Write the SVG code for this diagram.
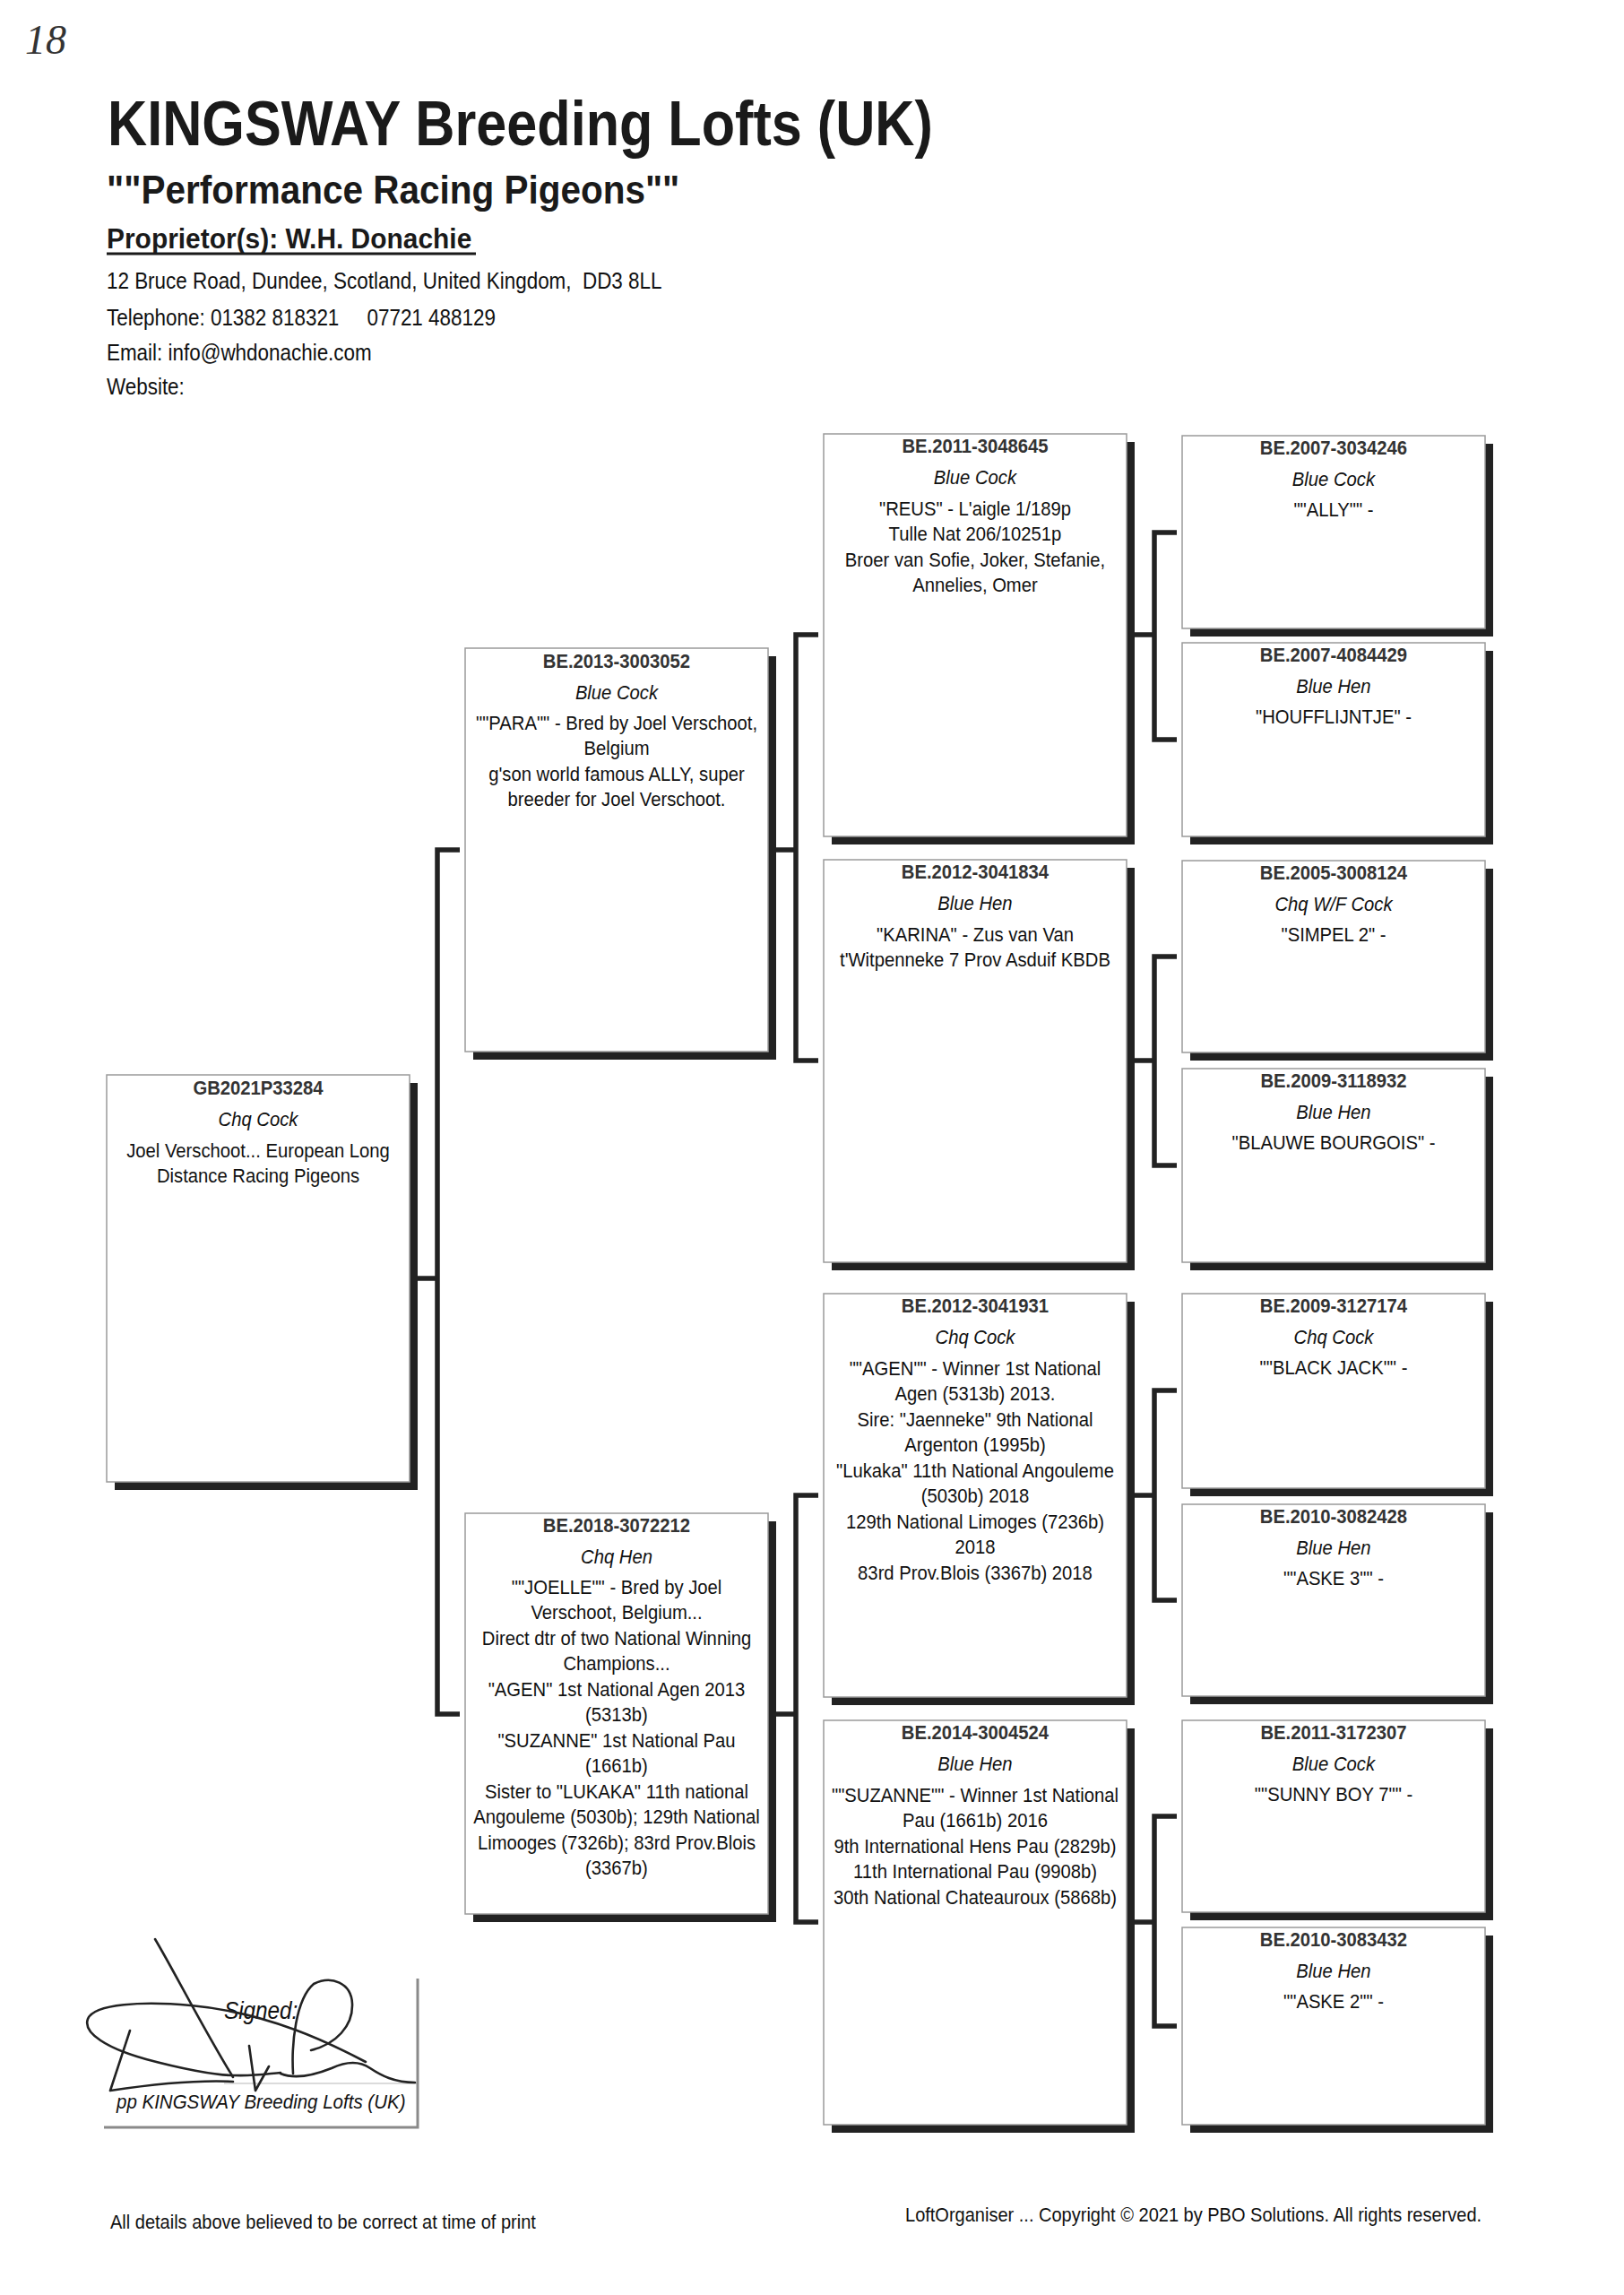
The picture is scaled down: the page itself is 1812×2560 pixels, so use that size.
<svg xmlns="http://www.w3.org/2000/svg" width="1812" height="2560" viewBox="0 0 1812 2560">
<style>
text{font-family:"Liberation Sans",Arial,sans-serif;fill:#111}
.hd{font-size:25.5px}
.ring{font-size:22.5px;font-weight:bold;fill:#333;text-anchor:middle}
.col{font-size:22.5px;font-style:italic;text-anchor:middle}
.d{font-size:22.5px;text-anchor:middle}
.shadow{fill:#222}
.box{fill:#fff;stroke:#9a9a9a;stroke-width:1.5}
.con{fill:none;stroke:#222;stroke-width:5.5;stroke-linejoin:miter;stroke-linecap:butt}
.sig{fill:none;stroke:#222;stroke-width:2.6;stroke-linecap:round;stroke-linejoin:round}
.foot{font-size:22.5px}
</style>
<rect width="1812" height="2560" fill="#fff"/>

<g id="header">
<text x="28" y="60" style="font-family:'Liberation Serif',serif;font-style:italic;font-size:46px;fill:#333">18</text>
<g transform="matrix(0.874,0,0,1,15.12,0)"><text x="120" y="162" style="font-size:70px;font-weight:bold;fill:#1a1a1a">KINGSWAY Breeding Lofts (UK)</text></g>
<g transform="matrix(0.9,0,0,1,11.9,0)"><text x="119" y="227" style="font-size:45px;font-weight:bold;fill:#1a1a1a">""Performance Racing Pigeons""</text></g>
<g transform="matrix(0.95,0,0,1,5.95,0)"><text x="119" y="277" style="font-size:31.5px;font-weight:bold;fill:#1a1a1a">Proprietor(s): W.H. Donachie</text></g>
<line x1="119" y1="283" x2="531" y2="283" stroke="#1a1a1a" stroke-width="3"/>
<g transform="matrix(0.88,0,0,1,14.28,0)">
<text class="hd" x="119" y="322" xml:space="preserve">12 Bruce Road, Dundee, Scotland, United Kingdom,  DD3 8LL</text>
<text class="hd" x="119" y="363" xml:space="preserve">Telephone: 01382 818321     07721 488129</text>
<text class="hd" x="119" y="402">Email: info@whdonachie.com</text>
<text class="hd" x="119" y="440">Website:</text>
</g>
</g>

<g id="connectors">
<path class="con" d="M513,948 H488 V1912 H513 M466,1426 H488"/>
<path class="con" d="M913,708 H888 V1183 H913 M866,948 H888"/>
<path class="con" d="M913,1668 H888 V2144 H913 M866,1912 H888"/>
<path class="con" d="M1313,594 H1288 V825 H1313 M1266,708 H1288"/>
<path class="con" d="M1313,1067 H1288 V1300 H1313 M1266,1183 H1288"/>
<path class="con" d="M1313,1551 H1288 V1785 H1313 M1266,1668 H1288"/>
<path class="con" d="M1313,2026 H1288 V2260 H1313 M1266,2144 H1288"/>
</g>

<g id="n-GB2021P33284">
<rect class="shadow" x="128" y="1208" width="338" height="454"/>
<rect class="box" x="119" y="1199" width="338" height="454"/>
<g transform="matrix(0.9,0,0,1,28.8,0)">
<text class="ring" x="288" y="1221">GB2021P33284</text>
<text class="col" x="288" y="1256">Chq Cock</text>
<text class="d" x="288" y="1291">Joel Verschoot... European Long</text>
<text class="d" x="288" y="1319.5">Distance Racing Pigeons</text>
</g>
</g>

<g id="n-BE2013-3003052">
<rect class="shadow" x="528" y="732" width="338" height="450"/>
<rect class="box" x="519" y="723" width="338" height="450"/>
<g transform="matrix(0.9,0,0,1,68.8,0)">
<text class="ring" x="688" y="745">BE.2013-3003052</text>
<text class="col" x="688" y="780">Blue Cock</text>
<text class="d" x="688" y="814">""PARA"" - Bred by Joel Verschoot,</text>
<text class="d" x="688" y="842.5">Belgium</text>
<text class="d" x="688" y="871">g'son world famous ALLY, super</text>
<text class="d" x="688" y="899.5">breeder for Joel Verschoot.</text>
</g>
</g>

<g id="n-BE2018-3072212">
<rect class="shadow" x="528" y="1697" width="338" height="447"/>
<rect class="box" x="519" y="1688" width="338" height="447"/>
<g transform="matrix(0.9,0,0,1,68.8,0)">
<text class="ring" x="688" y="1709">BE.2018-3072212</text>
<text class="col" x="688" y="1744">Chq Hen</text>
<text class="d" x="688" y="1778">""JOELLE"" - Bred by Joel</text>
<text class="d" x="688" y="1806.5">Verschoot, Belgium...</text>
<text class="d" x="688" y="1835">Direct dtr of two National Winning</text>
<text class="d" x="688" y="1863.5">Champions...</text>
<text class="d" x="688" y="1892">"AGEN" 1st National Agen 2013</text>
<text class="d" x="688" y="1920.5">(5313b)</text>
<text class="d" x="688" y="1949">"SUZANNE" 1st National Pau</text>
<text class="d" x="688" y="1977.5">(1661b)</text>
<text class="d" x="688" y="2006">Sister to "LUKAKA" 11th national</text>
<text class="d" x="688" y="2034.5">Angouleme (5030b); 129th National</text>
<text class="d" x="688" y="2063">Limooges (7326b); 83rd Prov.Blois</text>
<text class="d" x="688" y="2091.5">(3367b)</text>
</g>
</g>

<g id="n-BE2011-3048645">
<rect class="shadow" x="928" y="493" width="338" height="449"/>
<rect class="box" x="919" y="484" width="338" height="449"/>
<g transform="matrix(0.9,0,0,1,108.8,0)">
<text class="ring" x="1088" y="505">BE.2011-3048645</text>
<text class="col" x="1088" y="540">Blue Cock</text>
<text class="d" x="1088" y="575">"REUS" - L'aigle 1/189p</text>
<text class="d" x="1088" y="603.5">Tulle Nat 206/10251p</text>
<text class="d" x="1088" y="632">Broer van Sofie, Joker, Stefanie,</text>
<text class="d" x="1088" y="660.5">Annelies, Omer</text>
</g>
</g>

<g id="n-BE2012-3041834">
<rect class="shadow" x="928" y="968" width="338" height="449"/>
<rect class="box" x="919" y="959" width="338" height="449"/>
<g transform="matrix(0.9,0,0,1,108.8,0)">
<text class="ring" x="1088" y="980">BE.2012-3041834</text>
<text class="col" x="1088" y="1015">Blue Hen</text>
<text class="d" x="1088" y="1050">"KARINA" - Zus van Van</text>
<text class="d" x="1088" y="1078.5">t'Witpenneke 7 Prov Asduif KBDB</text>
</g>
</g>

<g id="n-BE2012-3041931">
<rect class="shadow" x="928" y="1452" width="338" height="450"/>
<rect class="box" x="919" y="1443" width="338" height="450"/>
<g transform="matrix(0.9,0,0,1,108.8,0)">
<text class="ring" x="1088" y="1464">BE.2012-3041931</text>
<text class="col" x="1088" y="1499">Chq Cock</text>
<text class="d" x="1088" y="1534">""AGEN"" - Winner 1st National</text>
<text class="d" x="1088" y="1562.5">Agen (5313b) 2013.</text>
<text class="d" x="1088" y="1591">Sire: "Jaenneke" 9th National</text>
<text class="d" x="1088" y="1619.5">Argenton (1995b)</text>
<text class="d" x="1088" y="1648">"Lukaka" 11th National Angouleme</text>
<text class="d" x="1088" y="1676.5">(5030b) 2018</text>
<text class="d" x="1088" y="1705">129th National Limoges (7236b)</text>
<text class="d" x="1088" y="1733.5">2018</text>
<text class="d" x="1088" y="1762">83rd Prov.Blois (3367b) 2018</text>
</g>
</g>

<g id="n-BE2014-3004524">
<rect class="shadow" x="928" y="1928" width="338" height="451"/>
<rect class="box" x="919" y="1919" width="338" height="451"/>
<g transform="matrix(0.9,0,0,1,108.8,0)">
<text class="ring" x="1088" y="1940">BE.2014-3004524</text>
<text class="col" x="1088" y="1975">Blue Hen</text>
<text class="d" x="1088" y="2010">""SUZANNE"" - Winner 1st National</text>
<text class="d" x="1088" y="2038.5">Pau (1661b) 2016</text>
<text class="d" x="1088" y="2067">9th International Hens Pau (2829b)</text>
<text class="d" x="1088" y="2095.5">11th International Pau (9908b)</text>
<text class="d" x="1088" y="2124">30th National Chateauroux (5868b)</text>
</g>
</g>

<g id="n-BE2007-3034246">
<rect class="shadow" x="1328" y="495" width="338" height="215"/>
<rect class="box" x="1319" y="486" width="338" height="215"/>
<g transform="matrix(0.9,0,0,1,148.8,0)">
<text class="ring" x="1488" y="507">BE.2007-3034246</text>
<text class="col" x="1488" y="542">Blue Cock</text>
<text class="d" x="1488" y="576">""ALLY"" -</text>
</g>
</g>

<g id="n-BE2007-4084429">
<rect class="shadow" x="1328" y="726" width="338" height="216"/>
<rect class="box" x="1319" y="717" width="338" height="216"/>
<g transform="matrix(0.9,0,0,1,148.8,0)">
<text class="ring" x="1488" y="738">BE.2007-4084429</text>
<text class="col" x="1488" y="773">Blue Hen</text>
<text class="d" x="1488" y="807">"HOUFFLIJNTJE" -</text>
</g>
</g>

<g id="n-BE2005-3008124">
<rect class="shadow" x="1328" y="969" width="338" height="214"/>
<rect class="box" x="1319" y="960" width="338" height="214"/>
<g transform="matrix(0.9,0,0,1,148.8,0)">
<text class="ring" x="1488" y="981">BE.2005-3008124</text>
<text class="col" x="1488" y="1016">Chq W/F Cock</text>
<text class="d" x="1488" y="1050">"SIMPEL 2" -</text>
</g>
</g>

<g id="n-BE2009-3118932">
<rect class="shadow" x="1328" y="1201" width="338" height="216"/>
<rect class="box" x="1319" y="1192" width="338" height="216"/>
<g transform="matrix(0.9,0,0,1,148.8,0)">
<text class="ring" x="1488" y="1213">BE.2009-3118932</text>
<text class="col" x="1488" y="1248">Blue Hen</text>
<text class="d" x="1488" y="1282">"BLAUWE BOURGOIS" -</text>
</g>
</g>

<g id="n-BE2009-3127174">
<rect class="shadow" x="1328" y="1452" width="338" height="217"/>
<rect class="box" x="1319" y="1443" width="338" height="217"/>
<g transform="matrix(0.9,0,0,1,148.8,0)">
<text class="ring" x="1488" y="1464">BE.2009-3127174</text>
<text class="col" x="1488" y="1499">Chq Cock</text>
<text class="d" x="1488" y="1533">""BLACK JACK"" -</text>
</g>
</g>

<g id="n-BE2010-3082428">
<rect class="shadow" x="1328" y="1687" width="338" height="214"/>
<rect class="box" x="1319" y="1678" width="338" height="214"/>
<g transform="matrix(0.9,0,0,1,148.8,0)">
<text class="ring" x="1488" y="1699">BE.2010-3082428</text>
<text class="col" x="1488" y="1734">Blue Hen</text>
<text class="d" x="1488" y="1768">""ASKE 3"" -</text>
</g>
</g>

<g id="n-BE2011-3172307">
<rect class="shadow" x="1328" y="1928" width="338" height="214"/>
<rect class="box" x="1319" y="1919" width="338" height="214"/>
<g transform="matrix(0.9,0,0,1,148.8,0)">
<text class="ring" x="1488" y="1940">BE.2011-3172307</text>
<text class="col" x="1488" y="1975">Blue Cock</text>
<text class="d" x="1488" y="2009">""SUNNY BOY 7"" -</text>
</g>
</g>

<g id="n-BE2010-3083432">
<rect class="shadow" x="1328" y="2159" width="338" height="220"/>
<rect class="box" x="1319" y="2150" width="338" height="220"/>
<g transform="matrix(0.9,0,0,1,148.8,0)">
<text class="ring" x="1488" y="2171">BE.2010-3083432</text>
<text class="col" x="1488" y="2206">Blue Hen</text>
<text class="d" x="1488" y="2240">""ASKE 2"" -</text>
</g>
</g>

<g id="signature">
<line x1="250" y1="2324" x2="466" y2="2324" stroke="#cfcfcf" stroke-width="1.5"/>
<path d="M466,2207 V2373 H116" fill="none" stroke="#8a8a8a" stroke-width="3"/>
<g transform="matrix(0.9,0,0,1,25,0)"><text x="250" y="2252" style="font-size:27px;font-style:italic">Signed:</text></g>
<g transform="matrix(0.9,0,0,1,13,0)"><text x="130" y="2352" style="font-size:22.8px;font-style:italic">pp KINGSWAY Breeding Lofts (UK)</text></g>
<path class="sig" d="M408,2300 C370,2280 300,2245 213,2237 C160,2232 105,2235 98,2252 C92,2268 120,2285 163,2297 C200,2307 240,2315 260,2315 C285,2316 300,2313 313,2312"/>
<path class="sig" d="M173,2163 C195,2200 225,2260 260,2317"/>
<path class="sig" d="M145,2265 L123,2332 C170,2325 220,2320 260,2322"/>
<path class="sig" d="M278,2282 L285,2332 L300,2305"/>
<path class="sig" d="M327,2313 C325,2280 330,2230 350,2213 C370,2203 392,2212 393,2235 C394,2260 375,2280 347,2287"/>
<path class="sig" d="M313,2313 C330,2320 350,2315 370,2307 C385,2300 400,2298 413,2307 C425,2315 440,2323 463,2323"/>
</g>

<g id="footer">
<g transform="matrix(0.89,0,0,1,13.53,0)"><text class="foot" x="123" y="2486">All details above believed to be correct at time of print</text></g>
<g transform="matrix(0.89,0,0,1,111.1,0)"><text class="foot" x="1010" y="2478">LoftOrganiser ... Copyright © 2021 by PBO Solutions. All rights reserved.</text></g>
</g>
</svg>
